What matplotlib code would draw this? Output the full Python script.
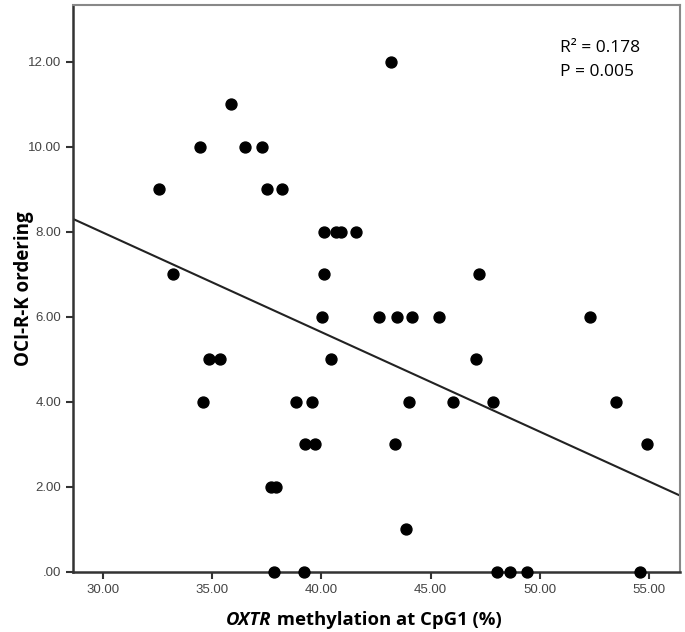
import numpy as np
import matplotlib
matplotlib.use('Agg')
import matplotlib.pyplot as plt
from matplotlib.ticker import FuncFormatter

# OXTR methylation at CpG1 (%) and OCI-R-K ordering score
methylation = [43.20, 35.86, 34.43, 36.49, 37.28, 32.55, 37.53, 38.18,
               40.12, 40.67, 40.90, 41.58, 33.22, 40.11, 47.19,
               40.01, 42.64, 43.46, 44.15, 45.37, 52.30,
               34.84, 35.36, 40.44, 47.08,
               34.60, 38.85, 39.56, 44.01, 46.03, 47.86, 53.49,
               39.25, 39.71, 43.36, 54.88,
               37.69, 37.92, 43.85,
               37.85, 39.18, 48.03, 48.65, 49.40, 54.57]
ordering = [12, 11, 10, 10, 10, 9, 9, 9,
            8, 8, 8, 8, 7, 7, 7,
            6, 6, 6, 6, 6, 6,
            5, 5, 5, 5,
            4, 4, 4, 4, 4, 4, 4,
            3, 3, 3, 3,
            2, 2, 1,
            0, 0, 0, 0, 0, 0]
r2_text = 'R² = 0.178'
p_text = 'P = 0.005'

x = np.array(methylation)
y = np.array(ordering)

fig = plt.figure(figsize=(6.85, 6.32), dpi=100)
ax = fig.add_axes([0.1066, 0.0954, 0.886, 0.8966])

ax.scatter(x, y, s=62, color='black', zorder=3, clip_on=False)

# linear fit line across the whole x range
xmin, xmax = 28.63, 56.41
slope, intercept = np.polyfit(x, y, 1)
xs = np.array([xmin, xmax])
ax.plot(xs, slope * xs + intercept, color='#222222', lw=1.5)

ax.set_xlim(xmin, xmax)
ax.set_ylim(0, 13.33)
ax.set_xticks([30, 35, 40, 45, 50, 55])
ax.set_yticks([0, 2, 4, 6, 8, 10, 12])


def fmt(v, pos):
    s = f'{v:.2f}'
    if s.startswith('0.'):
        s = s[1:]
    return s


ax.xaxis.set_major_formatter(FuncFormatter(fmt))
ax.yaxis.set_major_formatter(FuncFormatter(fmt))
ax.tick_params(direction='out', length=5, width=1.5, color='#333333',
               labelsize=9.5, labelcolor='#444444')
for lab in ax.get_xticklabels() + ax.get_yticklabels():
    lab.set_family('Liberation Sans')

for side in ['left', 'bottom']:
    ax.spines[side].set_color('#333333')
    ax.spines[side].set_linewidth(1.8)
for side in ['top', 'right']:
    ax.spines[side].set_color('#888888')
    ax.spines[side].set_linewidth(1.5)

# stats box
ax.text(0.802, 0.924, r2_text, transform=ax.transAxes, fontsize=12.5,
        family='Open Sans', va='center', ha='left')
ax.text(0.802, 0.882, p_text, transform=ax.transAxes, fontsize=12.5,
        family='Open Sans', va='center', ha='left')

# y label
fig.text(0.035, 0.544, 'OCI-R-K ordering', rotation=90, ha='center', va='center',
         fontsize=13.5, fontweight='bold', family='Open Sans')

# x label, OXTR in italics
renderer = fig.canvas.get_renderer()
t1 = fig.text(0, 0.019, 'OXTR', fontsize=13.3, fontweight='bold', style='italic',
              family='Open Sans', va='center')
t2 = fig.text(0, 0.019, ' methylation at CpG1 (%)', fontsize=13.3, fontweight='bold',
              family='Open Sans', va='center')
w1 = t1.get_window_extent(renderer).width / fig.bbox.width
w2 = t2.get_window_extent(renderer).width / fig.bbox.width
center = 0.531
start = center - (w1 + w2) / 2
t1.set_x(start)
t2.set_x(start + w1)

fig.savefig('out.png', dpi=100)
